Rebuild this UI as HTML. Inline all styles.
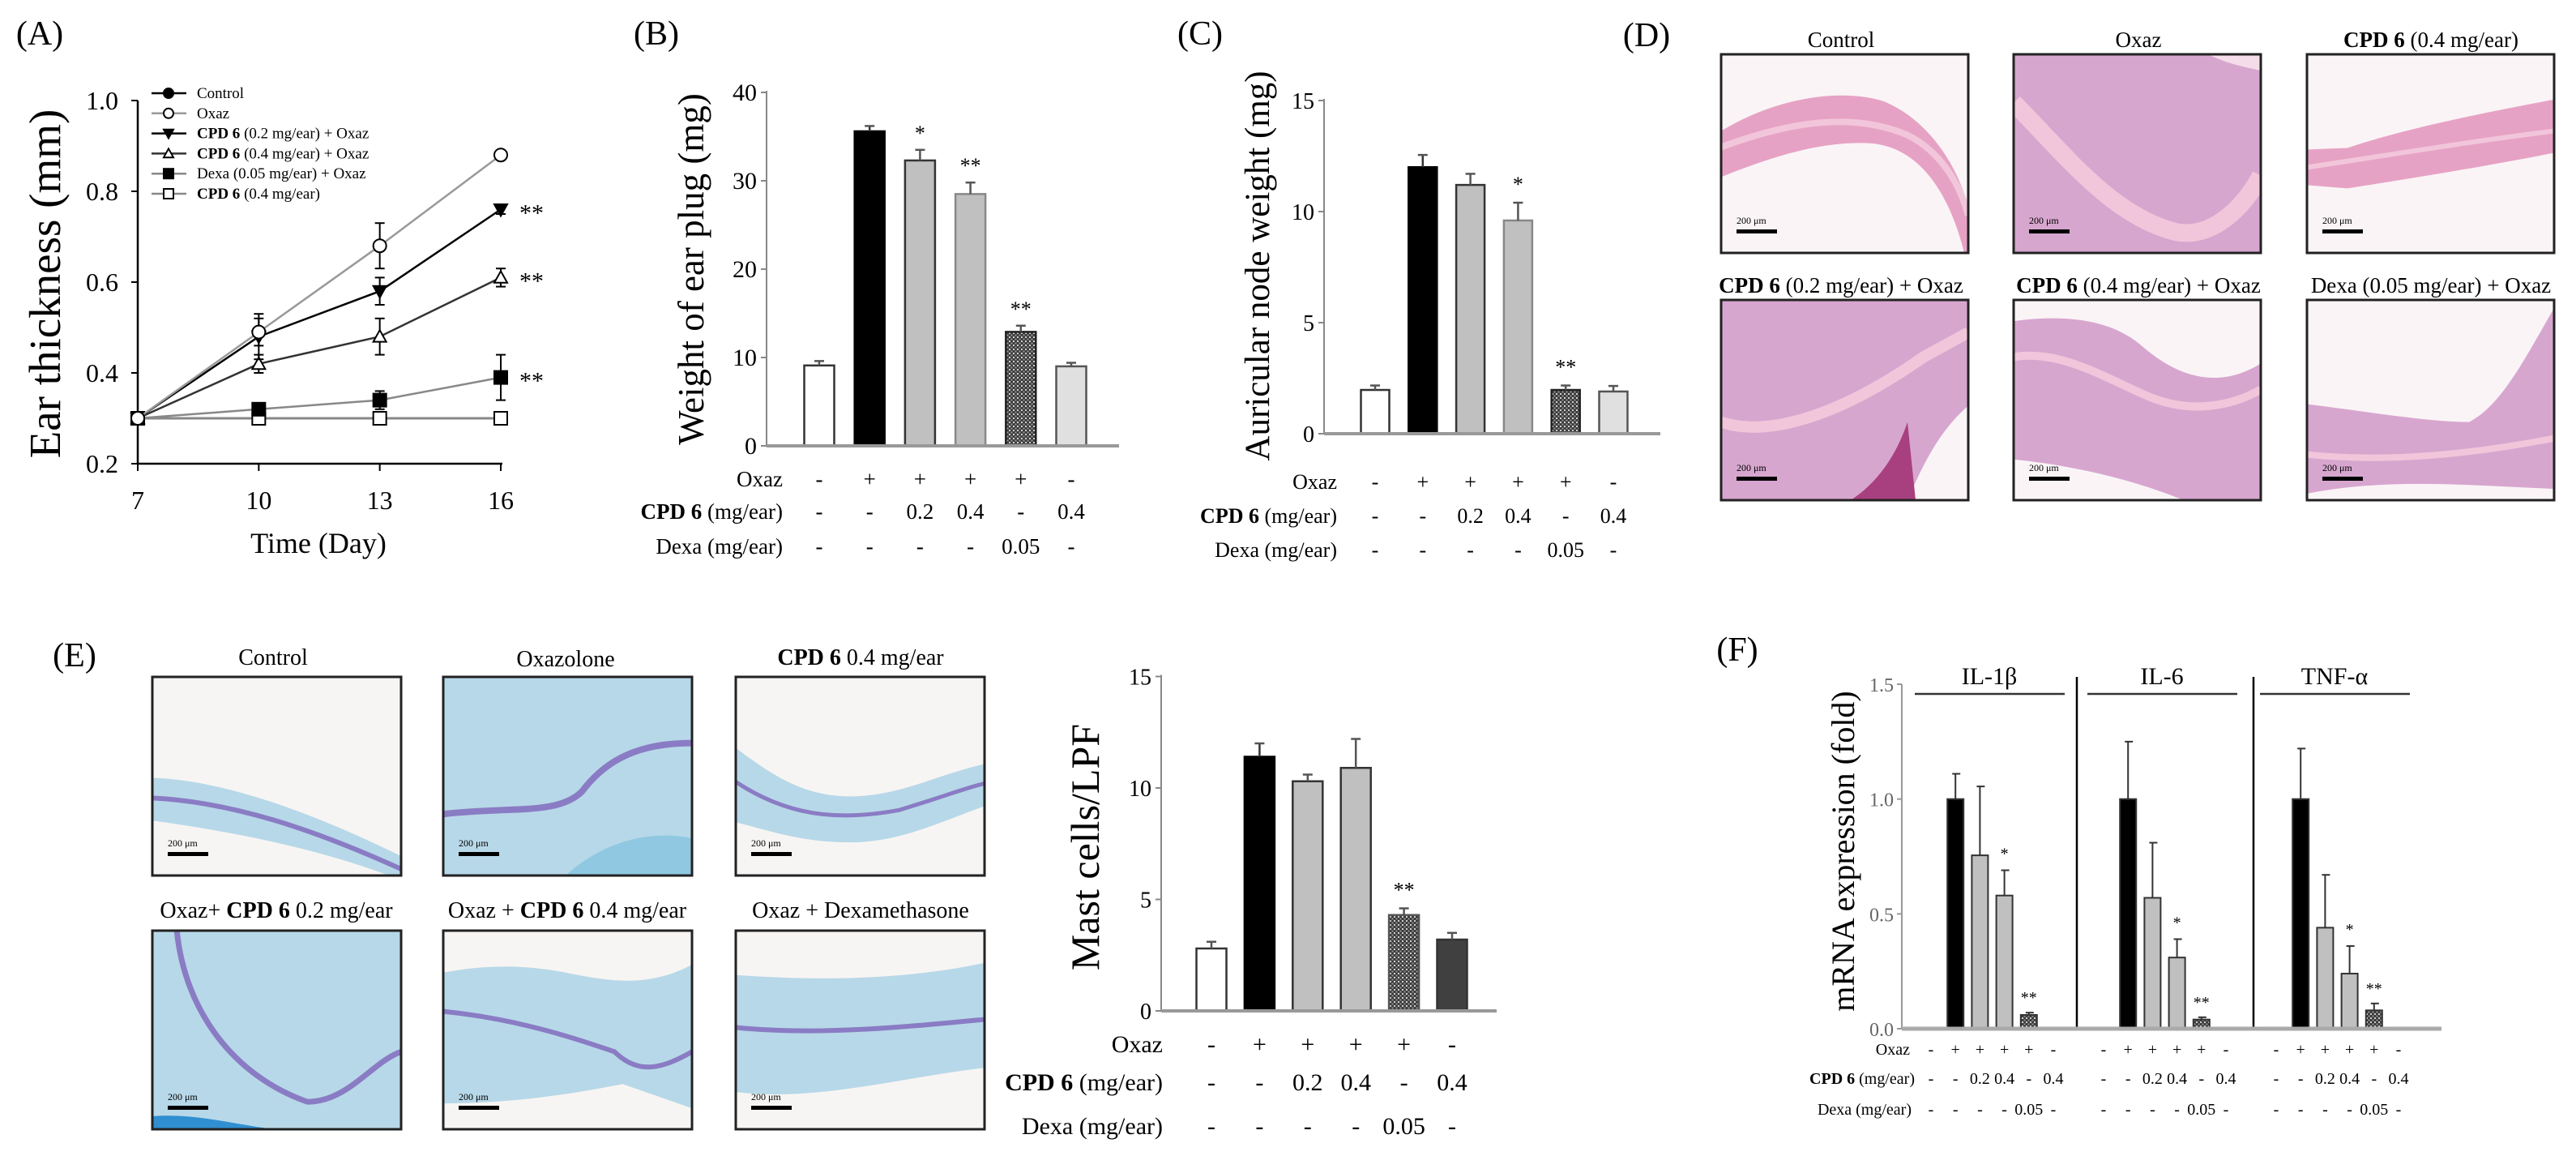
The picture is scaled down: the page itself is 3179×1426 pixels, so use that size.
<!DOCTYPE html>
<html><head><meta charset="utf-8"><title>Figure</title>
<style>
html,body{margin:0;padding:0;background:#fff;}
svg{display:block;font-family:"Liberation Serif",serif;}
</style></head>
<body>
<svg id="fig" xmlns="http://www.w3.org/2000/svg" width="3179" height="1426" viewBox="0 0 3179 1426">
<defs>
<pattern id="hatch" width="5" height="5" patternUnits="userSpaceOnUse">
<rect width="5" height="5" fill="#3c3c3c"/><rect width="2" height="2" fill="#d0d0d0"/><rect x="2.5" y="2.5" width="2" height="2" fill="#9a9a9a"/>
</pattern>
</defs>
<rect width="3179" height="1426" fill="#fff"/>
</svg>
<script>
// ---------- Panel A data ----------
const aDays = [7, 10, 13, 16];
const aTicks = [0.2, 0.4, 0.6, 0.8, 1.0];
const aTickLabels = ["0.2", "0.4", "0.6", "0.8", "1.0"];
const aControl = [0.30, 0.30, 0.30, 0.30];
const aControlErr = [0.01, 0.01, 0.01, 0.01];
const aOxaz = [0.30, 0.49, 0.68, 0.88];
const aOxazErr = [0.01, 0.03, 0.05, 0.01];
const aCpd02 = [0.30, 0.48, 0.58, 0.76];
const aCpd02Err = [0.01, 0.05, 0.03, 0.01];
const aCpd04 = [0.30, 0.42, 0.48, 0.61];
const aCpd04Err = [0.01, 0.02, 0.04, 0.02];
const aDexa = [0.30, 0.32, 0.34, 0.39];
const aDexaErr = [0.01, 0.01, 0.02, 0.05];
const aCpdOnly = [0.30, 0.30, 0.30, 0.30];
const aCpdOnlyErr = [0, 0, 0, 0];
const aLegend = ["Control", "Oxaz", "CPD 6 (0.2 mg/ear) + Oxaz", "CPD 6 (0.4 mg/ear) + Oxaz", "Dexa (0.05 mg/ear) + Oxaz", "CPD 6 (0.4 mg/ear)"];
// ---------- Panel B data ----------
const bValues = [9.1, 35.6, 32.3, 28.5, 12.9, 9.0];
const bErrors = [0.5, 0.6, 1.2, 1.3, 0.7, 0.4];
const bStars = ["", "", "*", "**", "**", ""];
const bTicks = [0, 10, 20, 30, 40];
// ---------- Panel C data ----------
const cValues = [1.97, 12.0, 11.2, 9.6, 1.97, 1.9];
const cErrors = [0.2, 0.55, 0.5, 0.8, 0.2, 0.25];
const cStars = ["", "", "", "*", "**", ""];
const cTicks = [0, 5, 10, 15];
// ---------- Panel E data ----------
const eValues = [2.8, 11.4, 10.3, 10.9, 4.3, 3.2];
const eErrors = [0.3, 0.6, 0.3, 1.3, 0.3, 0.3];
const eStars = ["", "", "", "", "**", ""];
const eTicks = [0, 5, 10, 15];
// ---------- shared treatment rows ----------
const rowOxaz = ["-", "+", "+", "+", "+", "-"];
const rowCpd = ["-", "-", "0.2", "0.4", "-", "0.4"];
const rowDexa = ["-", "-", "-", "-", "0.05", "-"];
// ---------- Panel F data ----------
const fGenes = ["IL-1β", "IL-6", "TNF-α"];
const fIl1b = [1.0, 0.755, 0.58, 0.06];
const fIl1bErr = [0.11, 0.30, 0.11, 0.01];
const fIl6 = [1.0, 0.57, 0.31, 0.04];
const fIl6Err = [0.25, 0.24, 0.08, 0.01];
const fTnf = [1.0, 0.44, 0.24, 0.08];
const fTnfErr = [0.22, 0.23, 0.12, 0.03];
const fTicks = [0, 0.5, 1.0, 1.5];
const fTickLabels = ["0.0", "0.5", "1.0", "1.5"];

const NS = "http://www.w3.org/2000/svg";
const svg = document.getElementById("fig");
function mk(tag, attrs, name, parent) {
  const e = document.createElementNS(NS, tag);
  for (const k in attrs) e.setAttribute(k, attrs[k]);
  
  
  (parent || svg).appendChild(e);
  return e;
}
function txt(x, y, s, size, name, o) {
  o = o || {};
  const t = mk("text", {x: x, y: y, "font-size": size, "text-anchor": o.anchor || "middle",
    "font-weight": o.bold ? "bold" : "normal", fill: o.fill || "#000",
    "font-family": '"Liberation Serif", serif'}, name, o.parent);
  if (o.transform) t.setAttribute("transform", o.transform);
  t.textContent = s;
  return t;
}
function line(x1, y1, x2, y2, stroke, w, name, parent) {
  return mk("line", {x1: x1, y1: y1, x2: x2, y2: y2, stroke: stroke, "stroke-width": w}, name, parent);
}
function richCpd(x, y, size, rest, name, anchor) {
  const t = txt(x, y, "", size, name, {anchor: anchor || "end"});
  const s1 = mk("tspan", {"font-weight": "bold"}, "cpd6-bold", t);
  s1.textContent = "CPD 6";
  const s2 = mk("tspan", {}, "cpd6-rest", t);
  s2.textContent = rest;
  return t;
}

// ================= PANEL A =================
txt(49, 55, "(A)", 42, "panel-a-label");
const axA = {x0: 170, x1: 618, y0: 572, y1: 124};
function xA(d) { return axA.x0 + (d - aDays[0]) * (axA.x1 - axA.x0) / (aDays[3] - aDays[0]); }
function yA(v) { return axA.y0 - (v - 0.2) * (axA.y0 - axA.y1) / 0.8; }
line(axA.x0, axA.y1, axA.x0, axA.y0, "#000", 2.5, "a-y-axis");
line(axA.x0, axA.y0, axA.x1 + 2, axA.y0, "#000", 2.5, "a-x-axis");
aTicks.forEach((v, i) => {
  line(axA.x0 - 8, yA(v), axA.x0, yA(v), "#000", 2, "a-y-tick");
  txt(146, yA(v) + 11, aTickLabels[i], 32, "a-y-tick-label", {anchor: "end"});
});
aDays.forEach(d => {
  line(xA(d), axA.y0, xA(d), axA.y0 + 9, "#000", 2, "a-x-tick");
  txt(xA(d), 628, String(d), 32, "a-x-tick-label");
});
txt(393, 682, "Time (Day)", 36, "a-x-axis-title");
txt(0, 0, "Ear thickness (mm)", 55, "a-y-axis-title", {transform: "translate(74,350) rotate(-90)"});

function marker(type, x, y, r, name, parent) {
  const st = {"stroke": "#000", "stroke-width": 2};
  if (type === "circleF") return mk("circle", Object.assign({cx: x, cy: y, r: r, fill: "#000"}, st), name, parent);
  if (type === "circleO") return mk("circle", Object.assign({cx: x, cy: y, r: r, fill: "#fff"}, st), name, parent);
  if (type === "triDownF") return mk("polygon", Object.assign({points: `${x - r},${y - r * 0.8} ${x + r},${y - r * 0.8} ${x},${y + r}`, fill: "#000"}, st), name, parent);
  if (type === "triUpO") return mk("polygon", Object.assign({points: `${x - r},${y + r * 0.8} ${x + r},${y + r * 0.8} ${x},${y - r}`, fill: "#fff"}, st), name, parent);
  if (type === "squareF") return mk("rect", Object.assign({x: x - r, y: y - r, width: 2 * r, height: 2 * r, fill: "#000"}, st), name, parent);
  return mk("rect", Object.assign({x: x - r, y: y - r, width: 2 * r, height: 2 * r, fill: "#fff"}, st), name, parent);
}
const aSeries = [
  {vals: aControl, errs: aControlErr, m: "circleF", c: "#000", name: "control"},
  {vals: aCpdOnly, errs: aCpdOnlyErr, m: "squareO", c: "#888", name: "cpd6-only"},
  {vals: aDexa, errs: aDexaErr, m: "squareF", c: "#888", name: "dexa-oxaz"},
  {vals: aCpd04, errs: aCpd04Err, m: "triUpO", c: "#333", name: "cpd6-04-oxaz"},
  {vals: aCpd02, errs: aCpd02Err, m: "triDownF", c: "#000", name: "cpd6-02-oxaz"},
  {vals: aOxaz, errs: aOxazErr, m: "circleO", c: "#999", name: "oxaz"}
];
aSeries.forEach(s => {
  const g = mk("g", {}, "a-series-" + s.name);
  const pts = s.vals.map((v, i) => xA(aDays[i]) + "," + yA(v)).join(" ");
  mk("polyline", {points: pts, fill: "none", stroke: s.c, "stroke-width": 2.5}, "a-line-" + s.name, g);
  s.vals.forEach((v, i) => {
    if (s.errs[i] > 0) {
      const x = xA(aDays[i]);
      line(x, yA(v - s.errs[i]), x, yA(v + s.errs[i]), "#000", 2, "a-error-bar", g);
      line(x - 6, yA(v + s.errs[i]), x + 6, yA(v + s.errs[i]), "#000", 2, "a-error-cap", g);
      line(x - 6, yA(v - s.errs[i]), x + 6, yA(v - s.errs[i]), "#000", 2, "a-error-cap", g);
    }
    marker(s.m, xA(aDays[i]), yA(v), 8, "a-point-" + s.name, g);
  });
});
[aCpd02, aCpd04, aDexa].forEach(arr => {
  txt(xA(aDays[3]) + 38, yA(arr[3]) + 14, "**", 30, "a-significance");
});
const legMarkers = ["circleF", "circleO", "triDownF", "triUpO", "squareF", "squareO"];
const legColors = ["#000", "#999", "#000", "#333", "#888", "#888"];
aLegend.forEach((lab, i) => {
  const y = 115 + i * 24.8;
  const g = mk("g", {}, "a-legend-entry");
  line(187, y, 230, y, legColors[i], 2.5, "a-legend-line", g);
  marker(legMarkers[i], 208, y, 6, "a-legend-marker", g);
  if (lab.indexOf("CPD 6") === 0) {
    const t = txt(243, y + 6, "", 19, "a-legend-text", {anchor: "start", parent: g});
    const s1 = mk("tspan", {"font-weight": "bold"}, "cpd6-bold", t); s1.textContent = "CPD 6";
    const s2 = mk("tspan", {}, "legend-rest", t); s2.textContent = lab.slice(5);
  } else {
    txt(243, y + 6, lab, 19, "a-legend-text", {anchor: "start", parent: g});
  }
});

// ================= BAR PANELS =================
function barPanel(p) {
  const g = mk("g", {}, p.name);
  const yv = v => p.baseY - v * p.ppu;
  line(p.axisX, yv(p.ticks[p.ticks.length - 1]) - 2, p.axisX, p.baseY, "#888", 2, p.pre + "-y-axis", g);
  p.ticks.forEach(t => {
    line(p.axisX - 7, yv(t), p.axisX, yv(t), "#888", 2, p.pre + "-y-tick", g);
    txt(p.axisX - 12, yv(t) + 10, String(t), p.tickSize, p.pre + "-y-tick-label", {anchor: "end", parent: g});
  });
  p.values.forEach((v, i) => {
    const cx = p.c0 + i * p.pitch;
    const x = cx - p.bw / 2;
    mk("rect", {x: x, y: yv(v), width: p.bw, height: v * p.ppu, fill: p.fills[i], stroke: p.strokes[i], "stroke-width": 2.5}, p.pre + "-bar-" + (i + 1), g);
    const ty = yv(v + p.errs[i]);
    line(cx, yv(v), cx, ty, p.strokes[i] === "#000" ? "#333" : "#555", 2.5, p.pre + "-error-bar", g);
    line(cx - 6, ty, cx + 6, ty, "#555", 2.5, p.pre + "-error-cap", g);
    if (p.stars[i]) txt(cx, ty - p.starGap, p.stars[i], 26, p.pre + "-significance", {parent: g});
  });
  line(p.axisX, p.baseY, p.axisEnd, p.baseY, "#999", 4, p.pre + "-x-axis", g);
  const rows = [rowOxaz, rowCpd, rowDexa];
  p.rowY.forEach((ry, r) => {
    rows[r].forEach((s, i) => {
      txt(p.c0 + i * p.pitch, ry + 10, s, p.rowSize, p.pre + "-row-value", {parent: g});
    });
  });
  txt(p.rowX, p.rowY[0] + 10, "Oxaz", p.rowSize, p.pre + "-row-label-oxaz", {anchor: "end", parent: g});
  richCpd(p.rowX, p.rowY[1] + 10, p.rowSize, " (mg/ear)", p.pre + "-row-label-cpd6");
  txt(p.rowX, p.rowY[2] + 10, "Dexa (mg/ear)", p.rowSize, p.pre + "-row-label-dexa", {anchor: "end", parent: g});
  txt(0, 0, p.ylabel, p.ylabelSize, p.pre + "-y-axis-title", {transform: `translate(${p.ylabelX},${p.ylabelY}) rotate(-90)`, parent: g});
}
const stdFills = ["#fff", "#000", "#c0c0c0", "#c0c0c0", "url(#hatch)", "#e0e0e0"];
const stdStrokes = ["#333", "#000", "#333", "#888", "#222", "#555"];
txt(810, 55, "(B)", 42, "panel-b-label");
barPanel({name: "panel-b-chart", pre: "b", axisX: 946, baseY: 550, ppu: 10.9, ticks: bTicks, tickSize: 30,
  values: bValues, errs: bErrors, stars: bStars, c0: 1011, pitch: 62.2, bw: 37, fills: stdFills, strokes: stdStrokes,
  axisEnd: 1381, starGap: 12, rowY: [590, 630, 673], rowX: 966, rowSize: 27,
  ylabel: "Weight of ear plug (mg)", ylabelSize: 45, ylabelX: 868, ylabelY: 332});
txt(1481, 55, "(C)", 42, "panel-c-label");
barPanel({name: "panel-c-chart", pre: "c", axisX: 1634, baseY: 535, ppu: 27.4, ticks: cTicks, tickSize: 28,
  values: cValues, errs: cErrors, stars: cStars, c0: 1697, pitch: 58.8, bw: 35, fills: stdFills, strokes: stdStrokes,
  axisEnd: 2049, starGap: 14, rowY: [593, 635, 677], rowX: 1650, rowSize: 26,
  ylabel: "Auricular node weight (mg)", ylabelSize: 43, ylabelX: 1566, ylabelY: 328});
txt(2032, 57, "(D)", 42, "panel-d-label");
txt(92, 822, "(E)", 42, "panel-e-label");
barPanel({name: "panel-e-chart", pre: "e", axisX: 1433, baseY: 1247, ppu: 27.5, ticks: eTicks, tickSize: 28,
  values: eValues, errs: eErrors, stars: eStars, c0: 1495, pitch: 59.4, bw: 37,
  fills: ["#fff", "#000", "#c0c0c0", "#c0c0c0", "url(#hatch)", "#404040"], strokes: ["#333", "#000", "#333", "#333", "#555", "#333"],
  axisEnd: 1847, starGap: 14, rowY: [1288, 1335, 1389], rowX: 1435, rowSize: 30,
  ylabel: "Mast cells/LPF", ylabelSize: 50, ylabelX: 1356, ylabelY: 1045});

// ================= PANEL F =================
txt(2144, 815, "(F)", 42, "panel-f-label");
const fAx = {x: 2347, base: 1269, ppu: 283.3, end: 3013};
const fy = v => fAx.base - v * fAx.ppu;
const fGroupStart = [2383, 2596, 2809];
const fPitch = 30.2;
const fData = [[fIl1b, fIl1bErr], [fIl6, fIl6Err], [fTnf, fTnfErr]];
const fFills = ["#000", "#c0c0c0", "#c0c0c0", "url(#hatch)"];
line(fAx.x, fy(1.5), fAx.x, fAx.base, "#999", 2, "f-y-axis");
fTicks.forEach((t, i) => {
  line(fAx.x - 6, fy(t), fAx.x, fy(t), "#999", 2, "f-y-tick");
  txt(fAx.x - 10, fy(t) + 9, fTickLabels[i], 24, "f-y-tick-label", {anchor: "end", fill: "#666"});
});
txt(0, 0, "mRNA expression (fold)", 40, "f-y-axis-title", {transform: "translate(2288,1050) rotate(-90)"});
[2563, 2781].forEach(x => line(x, 835, x, fAx.base, "#000", 2.5, "f-group-divider"));
fGenes.forEach((gname, gi) => {
  const g = mk("g", {}, "f-group-" + gname);
  const s = fGroupStart[gi];
  line(s - 20, 856, s + 165, 856, "#333", 2.5, "f-group-header-line", g);
  txt(s + 72, 844, gname, 30, "f-group-title", {parent: g});
  const vals = fData[gi][0], errs = fData[gi][1];
  vals.forEach((v, j) => {
    const cx = s + (j + 1) * fPitch;
    mk("rect", {x: cx - 10, y: fy(v), width: 20, height: v * fAx.ppu, fill: fFills[j], stroke: "#333", "stroke-width": 2}, "f-bar", g);
    line(cx, fy(v), cx, fy(v + errs[j]), "#333", 2, "f-error-bar", g);
    line(cx - 4, fy(v + errs[j]), cx + 6, fy(v + errs[j]), "#333", 2, "f-error-cap", g);
    if (j === 2) txt(cx, fy(v + errs[j]) - 14, "*", 20, "f-significance", {parent: g});
    if (j === 3) txt(cx, fy(v + errs[j]) - 12, "**", 20, "f-significance", {parent: g});
  });
  [rowOxaz, rowCpd, rowDexa].forEach((row, r) => {
    row.forEach((t, j) => txt(s + j * fPitch, [1301, 1337, 1375][r], t, 20, "f-row-value", {parent: g}));
  });
});
line(fAx.x, fAx.base, fAx.end, fAx.base, "#aaa", 5, "f-x-axis");
txt(2357, 1301, "Oxaz", 20, "f-row-label-oxaz", {anchor: "end"});
richCpd(2363, 1337, 20, " (mg/ear)", "f-row-label-cpd6");
txt(2359, 1375, "Dexa (mg/ear)", 20, "f-row-label-dexa", {anchor: "end"});

// ================= PHOTOS =================
let clipN = 0;
function photo(x, y, w, h, bg, layers, name) {
  const g = mk("g", {transform: `translate(${x},${y})`}, name);
  const id = "clip" + (clipN++);
  const cp = mk("clipPath", {id: id}, "photo-clip", g);
  mk("rect", {x: 0, y: 0, width: w, height: h}, "photo-clip-rect", cp);
  const inner = mk("g", {"clip-path": `url(#${id})`}, "photo-content", g);
  const sc = mk("g", {transform: `scale(${w / 305},${h / 246})`}, "photo-scaled", inner);
  mk("rect", {x: 0, y: 0, width: 305, height: 246, fill: bg}, "photo-background", sc);
  layers.forEach(l => {
    if (l.stroke) mk("path", {d: l.d, fill: "none", stroke: l.stroke, "stroke-width": l.w || 4}, "photo-tissue-line", sc);
    else mk("path", {d: l.d, fill: l.fill}, "photo-tissue", sc);
  });
  txt(19, h - 36, "200 μm", 12, "scale-bar-label", {anchor: "start", parent: g});
  mk("rect", {x: 19, y: h - 29, width: 50, height: 5, fill: "#000"}, "scale-bar", g);
  mk("rect", {x: 0, y: 0, width: w, height: h, fill: "none", stroke: "#222", "stroke-width": 3}, "photo-frame", g);
}
const P = "#e6a2c4", PD = "#d7a6cf", PL = "#f2c6da", WH = "#faf4f6";
const dPhotos = [
  {x: 2124, y: 67, bg: WH, l: [{d: "M0,95 C60,58 140,40 200,58 C250,78 290,130 305,190 L305,246 L300,246 C280,165 240,112 180,110 C120,108 60,128 0,152 Z", fill: P}, {d: "M0,115 C80,85 160,70 230,100 C270,120 295,160 305,200", stroke: PL, w: 8}], n: "d-photo-control"},
  {x: 2485, y: 67, bg: PD, l: [{d: "M0,60 C60,120 120,200 200,220 C250,230 290,180 305,150", stroke: PL, w: 22}, {d: "M240,0 L305,0 L305,20 C280,15 260,10 240,0 Z", fill: "#f4dde8"}], n: "d-photo-oxaz"},
  {x: 2847, y: 67, bg: WH, l: [{d: "M0,118 L50,116 C120,92 220,72 305,56 L305,122 C230,137 140,152 50,166 L0,162 Z", fill: P}, {d: "M0,140 C100,125 200,108 305,95", stroke: PL, w: 6}], n: "d-photo-cpd6"},
  {x: 2124, y: 370, bg: PD, l: [{d: "M230,246 C250,200 270,160 305,130 L305,246 Z", fill: WH}, {d: "M160,246 C200,220 220,180 230,150 L240,246 Z", fill: "#a8407f"}, {d: "M0,150 C60,170 150,140 250,70 L305,40", stroke: PL, w: 14}], n: "d-photo-cpd6-02-oxaz"},
  {x: 2485, y: 370, bg: PD, l: [{d: "M0,0 L305,0 L305,78 C250,112 200,92 160,58 C120,22 60,18 0,26 Z", fill: WH}, {d: "M0,196 C80,204 150,222 210,246 L0,246 Z", fill: WH}, {d: "M0,70 C60,60 120,100 170,120 C220,140 270,130 305,110", stroke: PL, w: 10}], n: "d-photo-cpd6-04-oxaz"},
  {x: 2847, y: 370, bg: PD, l: [{d: "M0,0 L305,0 L305,10 C270,70 240,130 200,150 C150,150 80,138 0,128 Z", fill: WH}, {d: "M0,246 L305,246 L305,232 C200,228 100,218 0,238 Z", fill: WH}, {d: "M0,190 C100,200 200,190 305,170", stroke: PL, w: 8}], n: "d-photo-dexa-oxaz"}
];
dPhotos.forEach(p => photo(p.x, p.y, 305, p.y < 300 ? 245 : 247, p.bg, p.l, p.n));
const dTitles = [[2272, 58, "Control"], [2639, 58, "Oxaz"], [3000, 58, "CPD 6| (0.4 mg/ear)"], [2272, 361, "CPD 6| (0.2 mg/ear) + Oxaz"], [2639, 361, "CPD 6| (0.4 mg/ear) + Oxaz"], [3000, 361, "Dexa (0.05 mg/ear) + Oxaz"]];
dTitles.forEach(t => {
  if (t[2].indexOf("|") > 0) richCpd(t[0], t[1], 27, t[2].split("|")[1], "d-photo-title", "middle");
  else txt(t[0], t[1], t[2], 27, "d-photo-title");
});
const B = "#b7d8e8", BL = "#8a7cc4", EW = "#f7f5f3";
const ePhotos = [
  {x: 188, y: 835, bg: EW, l: [{d: "M0,125 C90,128 200,170 305,222 L305,246 L290,246 C200,212 100,192 0,178 Z", fill: B}, {d: "M0,150 C100,155 200,190 305,238", stroke: BL, w: 6}], n: "e-photo-control"},
  {x: 547, y: 835, bg: B, l: [{d: "M0,170 C80,160 140,172 170,142 C200,102 240,82 305,82", stroke: BL, w: 8}, {d: "M150,246 C200,200 260,190 305,200 L305,246 Z", fill: "#8fc8e0"}], n: "e-photo-oxazolone"},
  {x: 908, y: 835, bg: EW, l: [{d: "M0,88 C40,118 80,148 140,148 C200,148 250,120 305,108 L305,160 C250,180 200,205 140,205 C80,205 40,190 0,180 Z", fill: B}, {d: "M0,130 C60,170 120,180 200,165 C250,150 280,138 305,132", stroke: BL, w: 5}], n: "e-photo-cpd6"},
  {x: 188, y: 1148, bg: B, l: [{d: "M30,0 C40,100 100,180 190,212 C240,212 270,162 305,150", stroke: BL, w: 7}, {d: "M0,230 C60,225 120,246 160,246 L0,246 Z", fill: "#2f8fd0"}], n: "e-photo-oxaz-cpd6-02"},
  {x: 547, y: 1148, bg: B, l: [{d: "M0,0 L305,0 L305,42 C250,72 200,62 150,52 C100,42 50,42 0,52 Z", fill: EW}, {d: "M0,214 C80,214 150,204 220,190 L305,220 L305,246 L0,246 Z", fill: EW}, {d: "M0,100 C100,110 180,140 210,150 C240,180 270,170 305,150", stroke: BL, w: 6}], n: "e-photo-oxaz-cpd6-04"},
  {x: 908, y: 1148, bg: B, l: [{d: "M0,0 L305,0 L305,40 C200,62 100,62 0,55 Z", fill: EW}, {d: "M0,200 C100,212 200,182 305,170 L305,246 L0,246 Z", fill: EW}, {d: "M0,120 C100,130 200,120 305,110", stroke: BL, w: 6}], n: "e-photo-oxaz-dexa"}
];
ePhotos.forEach(p => photo(p.x, p.y, 307, 245, p.bg, p.l, p.n));
txt(337, 820, "Control", 28, "e-photo-title");
txt(698, 822, "Oxazolone", 28, "e-photo-title");
richCpd(1062, 820, 28, " 0.4 mg/ear", "e-photo-title", "middle");
const t1 = txt(341, 1132, "Oxaz+ ", 28, "e-photo-title");
const t1b = mk("tspan", {"font-weight": "bold"}, "cpd6-bold", t1); t1b.textContent = "CPD 6";
const t1c = mk("tspan", {}, "title-rest", t1); t1c.textContent = " 0.2 mg/ear";
const t2 = txt(700, 1132, "Oxaz + ", 28, "e-photo-title");
const t2b = mk("tspan", {"font-weight": "bold"}, "cpd6-bold", t2); t2b.textContent = "CPD 6";
const t2c = mk("tspan", {}, "title-rest", t2); t2c.textContent = " 0.4 mg/ear";
txt(1062, 1132, "Oxaz + Dexamethasone", 28, "e-photo-title");
</script>
</body></html>
